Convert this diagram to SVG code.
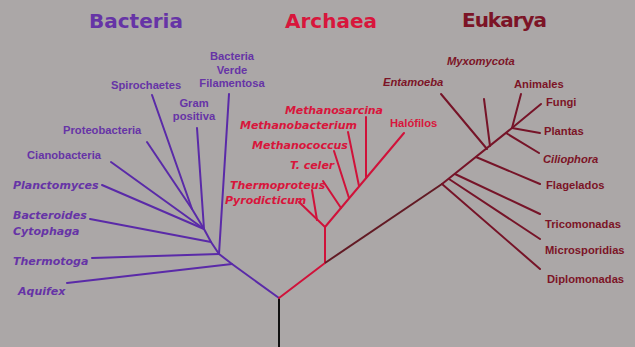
<svg xmlns="http://www.w3.org/2000/svg" width="635" height="347" viewBox="0 0 635 347">
<style>
.title{font-family:"DejaVu Sans",sans-serif;font-weight:bold;font-size:20px}
.lb{font-family:"Liberation Sans",Arial,sans-serif;font-weight:bold;font-size:11.2px}
.li{font-family:"DejaVu Sans",sans-serif;font-weight:bold;font-style:italic;font-size:11px}
.le{font-family:"Liberation Sans",Arial,sans-serif;font-weight:bold;font-style:italic;font-size:11.2px}
.bac{fill:#6634a6}
.arc{fill:#d8163c}
.euk{fill:#7c1426}
.cb{stroke:#5a2aa8;stroke-width:2;fill:none;stroke-linecap:round;stroke-linejoin:round}
.ca{stroke:#d0123a;stroke-width:2;fill:none;stroke-linecap:round;stroke-linejoin:round}
.ce{stroke:#761428;stroke-width:2;fill:none;stroke-linecap:round;stroke-linejoin:round}
</style>
<rect width="635" height="347" fill="#aba7a7"/>
<g id="connectors">
<line x1="279" y1="298" x2="279" y2="347" stroke="#111" stroke-width="2"/>
<polyline class="cb" points="279,298 232,264 219,254 211,242 204,229 192,209"/>
<line class="cb" x1="232" y1="264" x2="67" y2="283"/>
<line class="cb" x1="219" y1="254" x2="92" y2="258"/>
<line class="cb" x1="219" y1="254" x2="229" y2="94"/>
<line class="cb" x1="211" y1="242" x2="90" y2="219"/>
<line class="cb" x1="204" y1="229" x2="102" y2="185"/>
<line class="cb" x1="204" y1="229" x2="111" y2="162"/>
<line class="cb" x1="204" y1="229" x2="197" y2="128"/>
<line class="cb" x1="192" y1="209" x2="147" y2="142"/>
<line class="cb" x1="192" y1="209" x2="152" y2="95"/>
<polyline class="ca" points="279,298 325,263 325,227 404,133"/>
<line class="ca" x1="325" y1="227" x2="299" y2="202"/>
<line class="ca" x1="317" y1="220" x2="312" y2="190"/>
<line class="ca" x1="341" y1="208" x2="323" y2="181"/>
<line class="ca" x1="349" y1="198" x2="334" y2="151"/>
<line class="ca" x1="359" y1="186" x2="348" y2="132"/>
<line class="ca" x1="366" y1="178" x2="366" y2="117"/>
<polyline points="325,263 442,184" stroke="#621a24" stroke-width="2" fill="none"/>
<polyline class="ce" points="442,184 512,128"/>
<line class="ce" x1="442" y1="184" x2="540" y2="269"/>
<line class="ce" x1="449" y1="179" x2="540" y2="239"/>
<line class="ce" x1="455" y1="174" x2="540" y2="214"/>
<line class="ce" x1="476" y1="157" x2="540" y2="184"/>
<line class="ce" x1="487" y1="149" x2="441" y2="94"/>
<line class="ce" x1="490" y1="146" x2="484" y2="99"/>
<line class="ce" x1="506" y1="133" x2="539" y2="153"/>
<line class="ce" x1="512" y1="128" x2="540" y2="133"/>
<line class="ce" x1="512" y1="128" x2="541" y2="104"/>
<line class="ce" x1="512" y1="128" x2="521" y2="94"/>
</g>
<g id="title-bacteria"><text class="title bac" x="89" y="28" fill="#5e2aa2">Bacteria</text></g>
<g id="title-archaea"><text class="title arc" x="285" y="28" fill="#d0103a">Archaea</text></g>
<g id="title-eukarya"><text class="title euk" x="462" y="27" textLength="85">Eukarya</text></g>
<g id="bacteria-verde"><text class="lb bac" text-anchor="middle"><tspan x="232" y="60">Bacteria</tspan><tspan x="232" y="73.5">Verde</tspan><tspan x="232" y="87">Filamentosa</tspan></text></g>
<g id="spirochaetes"><text class="lb bac" x="111" y="88.5">Spirochaetes</text></g>
<g id="gram-positiva"><text class="lb bac" text-anchor="middle"><tspan x="194" y="107">Gram</tspan><tspan x="194" y="119.5">positiva</tspan></text></g>
<g id="proteobacteria"><text class="lb bac" x="63" y="133.5">Proteobacteria</text></g>
<g id="cianobacteria"><text class="lb bac" x="27" y="159">Cianobacteria</text></g>
<g id="planctomyces"><text class="li bac" x="13" y="188.5">Planctomyces</text></g>
<g id="bacteroides"><text class="li bac"><tspan x="13" y="219">Bacteroides</tspan><tspan x="13" y="234.5">Cytophaga</tspan></text></g>
<g id="thermotoga"><text class="li bac" x="13" y="264.5">Thermotoga</text></g>
<g id="aquifex"><text class="li bac" x="18" y="294.5">Aquifex</text></g>
<g id="methanosarcina"><text class="li arc" x="285" y="113.5" textLength="98">Methanosarcina</text></g>
<g id="methanobacterium"><text class="li arc" x="240" y="129" textLength="117">Methanobacterium</text></g>
<g id="methanococcus"><text class="li arc" x="252" y="148.5">Methanococcus</text></g>
<g id="t-celer"><text class="li arc" x="290" y="168.5">T. celer</text></g>
<g id="thermoproteus"><text class="li arc" x="230" y="188.5">Thermoproteus</text></g>
<g id="pyrodicticum"><text class="li arc" x="225" y="204">Pyrodicticum</text></g>
<g id="halofilos"><text class="lb arc" x="390" y="127">Halófilos</text></g>
<g id="myxomycota"><text class="le euk" x="447" y="65">Myxomycota</text></g>
<g id="entamoeba"><text class="le euk" x="383" y="85.5">Entamoeba</text></g>
<g id="animales"><text class="lb euk" x="514" y="88">Animales</text></g>
<g id="fungi"><text class="lb euk" x="546" y="106">Fungi</text></g>
<g id="plantas"><text class="lb euk" x="544" y="135">Plantas</text></g>
<g id="ciliophora"><text class="le euk" x="543" y="162.5">Ciliophora</text></g>
<g id="flagelados"><text class="lb euk" x="546" y="189">Flagelados</text></g>
<g id="tricomonadas"><text class="lb euk" x="545" y="227.5">Tricomonadas</text></g>
<g id="microsporidias"><text class="lb euk" x="545" y="254">Microsporidias</text></g>
<g id="diplomonadas"><text class="lb euk" x="547" y="283">Diplomonadas</text></g>
</svg>
